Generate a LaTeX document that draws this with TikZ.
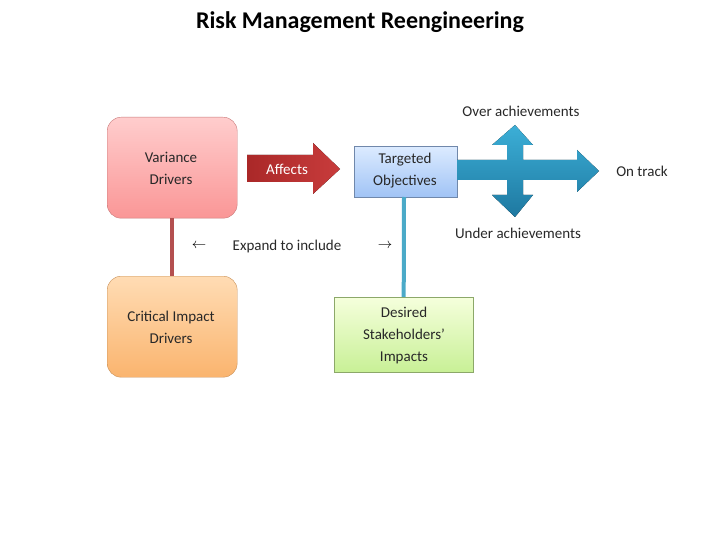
\documentclass[tikz,border=0pt]{standalone}
\usepackage{fontspec}
\setmainfont{Carlito}
\definecolor{pinkT}{RGB}{255,205,205}\definecolor{pinkB}{RGB}{250,150,150}
\definecolor{orT}{RGB}{255,220,180}\definecolor{orB}{RGB}{250,180,110}
\definecolor{blT}{RGB}{220,235,255}\definecolor{blB}{RGB}{160,195,245}
\definecolor{grT}{RGB}{245,255,220}\definecolor{grB}{RGB}{200,240,150}
\definecolor{redA}{RGB}{200,60,60}\definecolor{redB}{RGB}{170,40,40}
\definecolor{cyanA}{RGB}{60,175,215}\definecolor{cyanB}{RGB}{30,120,160}
\definecolor{lineR}{RGB}{180,80,80}\definecolor{lineB}{RGB}{75,170,200}
\definecolor{txt}{RGB}{40,40,40}
\tikzset{
  rbox/.style={draw=#1, rounded corners=14pt, minimum width=130pt, minimum height=101pt, inner sep=0},
  sbox/.style={draw=#1, inner sep=0},
  lbl/.style={font=\fontsize{15}{22}\selectfont, text=txt}
}
\begin{document}
\begin{tikzpicture}[x=1pt,y=-1pt]
\useasboundingbox (0,0) rectangle (720,540);
\node[font=\fontsize{24}{26}\selectfont\bfseries] (title) at (360,22) {Risk Management Reengineering};
% boxes
\node[rbox={pinkB!80!black}, top color=pinkT, bottom color=pinkB, anchor=north west] (var) at (107,117) {};
\node[lbl, align=center] (vart) at (171,168) {Variance\\Drivers};
\node[rbox={orB!80!black}, top color=orT, bottom color=orB, anchor=north west] (crit) at (107,276) {};
\node[lbl, align=center] (critt) at (171,327) {Critical Impact\\Drivers};
\draw[lineR, line width=4pt] (var.south) -- (crit.north);
% affects arrow
\fill[left color=redB, right color=redA] (247,155) -- (313,155) -- (313,143) -- (340,169) -- (313,194) -- (313,182) -- (247,182) -- cycle;
\node[lbl, text=white] (aff) at (287,169) {Affects};
% targeted
\node[sbox={blB!70!black}, top color=blT, bottom color=blB, minimum width=103pt, minimum height=51pt, anchor=north west] (targ) at (354,146) {};
\node[lbl, align=center] (targt) at (405,171) {Targeted\\Objectives};
% desired
\node[sbox={grB!70!black}, top color=grT, bottom color=grB, minimum width=139pt, minimum height=75pt, anchor=north west] (des) at (334,297) {};
\node[lbl, align=center] (dest) at (404,335) {Desired\\Stakeholders’\\Impacts};
\draw[lineB, line width=4pt] (404,197) -- (des.north);
% four-way arrow
\fill[top color=cyanA, bottom color=cyanB]
 (457,160) -- (507,160) -- (507,145) -- (492,145) -- (515,125) -- (533,145) -- (523,145) -- (523,160)
 -- (577,160) -- (577,150) -- (599,171) -- (577,192) -- (577,180)
 -- (523,180) -- (523,195) -- (533,195) -- (515,217) -- (492,195) -- (507,195) -- (507,180) -- (457,180) -- cycle;
\node[lbl] (over) at (521,111) {Over achievements};
\node[lbl] (ontrack) at (642,171) {On track};
\node[lbl] (under) at (518,233) {Under achievements};
\node[lbl] (exp) at (287,247) {Expand to include};
\node[font=\fontsize{15}{15}\selectfont] (la) at (199,246) {$\leftarrow$};
\node[font=\fontsize{15}{15}\selectfont] (ra) at (385,246) {$\rightarrow$};
\end{tikzpicture}
\end{document}
